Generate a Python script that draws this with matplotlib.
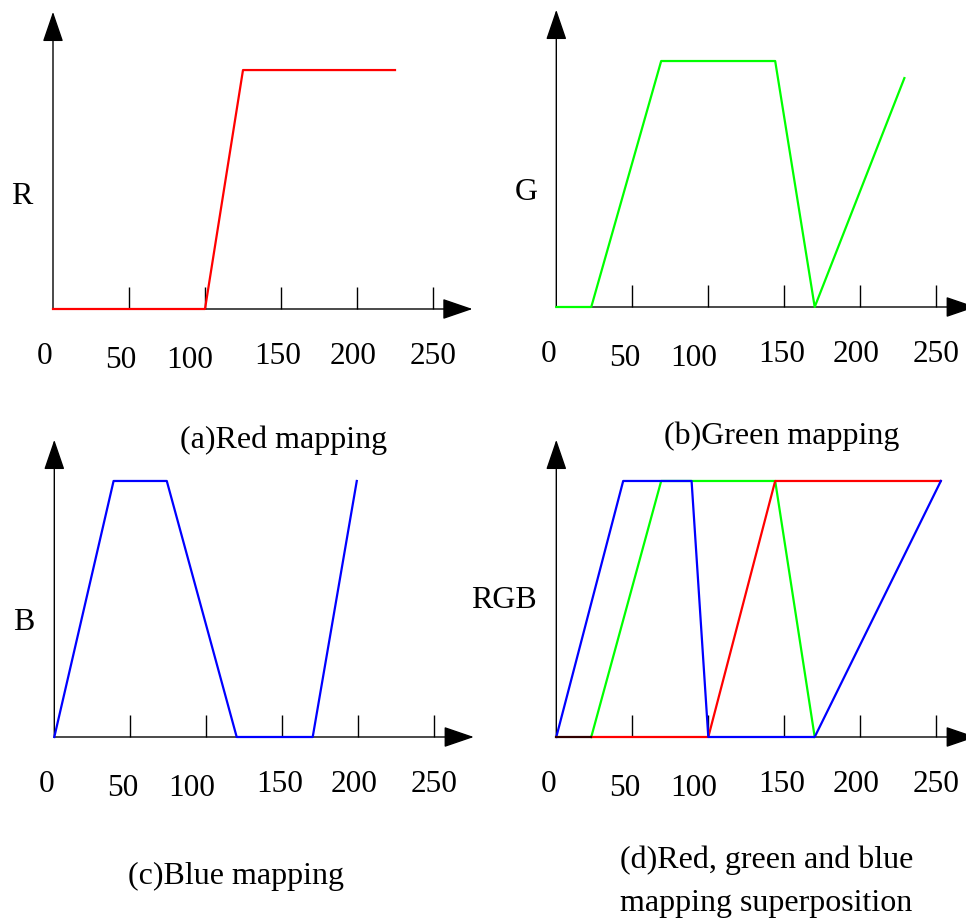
import matplotlib
matplotlib.use("Agg")
import matplotlib.pyplot as plt

plt.rcParams['font.family'] = ['Liberation Serif', 'DejaVu Serif']

W, H, DPI = 966, 924, 100

# axe des x commun
ticks = [0, 50, 100, 150, 200, 250]
tick_labels = ["0", "50", "100", "150", "200", "250"]

# (a) rouge
red_x = [0, 100, 125, 225]
red_y = [0, 0, 238, 238]

# (b) vert
green_x = [0, 23, 69, 144, 170, 229]
green_y = [0, 0, 245, 245, 0, 228]

# (c) bleu
blue_x = [0, 39, 74, 120, 170, 199]
blue_y = [0, 255, 255, 0, 0, 255]

# (d) superposition
sup_red_x = [23, 100, 144, 253]
sup_red_y = [0, 0, 255, 255]
sup_green_x = [23, 69, 144, 170]
sup_green_y = [0, 255, 255, 0]
sup_blue_x = [0, 44, 89, 100, 170, 253]
sup_blue_y = [0, 255, 255, 0, 0, 255]
sup_dark_x = [0, 23]
sup_dark_y = [0, 0]

# echelles (pixels par unite)
SX, SY = 1.52, 1.004
XMIN, XMAX, YMIN, YMAX = -35, 285, -70, 305

# decalages des etiquettes de graduation (pixels)
lab_dx = [-8, -8, -15, -3, -4, 0]
lab_dy = [-48, -51, -51, -47, -47, -47]

fig = plt.figure(figsize=(W / DPI, H / DPI), dpi=DPI)


def make_panel(ox, oy, ylabel, lab_off, ha="center"):
    left = ox + XMIN * SX
    bottom = oy - YMIN * SY
    width = (XMAX - XMIN) * SX
    height = (YMAX - YMIN) * SY
    ax = fig.add_axes([left / W, 1 - bottom / H, width / W, height / H])
    ax.set_xlim(XMIN, XMAX)
    ax.set_ylim(YMIN, YMAX)
    ax.axis("off")
    arrow = dict(arrowstyle="-|>,head_length=1.9,head_width=0.65", mutation_scale=10,
                 color="black", lw=1.0, shrinkA=0, shrinkB=0)
    ax.annotate("", xy=(276, 0), xytext=(0, 0), arrowprops=arrow, annotation_clip=False)
    ax.annotate("", xy=(0, 296), xytext=(0, 0), arrowprops=arrow, annotation_clip=False)
    ax.vlines(ticks[1:], 0, 22, color="black", lw=1.0, zorder=1)
    for t, lab, dx, dy in zip(ticks, tick_labels, lab_dx, lab_dy):
        ax.annotate(lab, xy=(t, 0), xytext=(dx, dy), textcoords="offset pixels",
                    ha="center", va="center", fontsize=22.5, annotation_clip=False)
    ax.annotate(ylabel, xy=(0, 0), xytext=lab_off, textcoords="offset pixels",
                ha=ha, va="center", fontsize=23, annotation_clip=False)
    return ax


ax_a = make_panel(53, 309, "R", (-31, 112))
ax_a.plot(red_x, red_y, color="#ff0000", lw=1.6, zorder=3)

ax_b = make_panel(556.3, 307, "G", (-30, 114))
ax_b.plot(green_x, green_y, color="#00ff00", lw=1.6, zorder=3)

ax_c = make_panel(54.3, 737, "B", (-31, 115))
ax_c.plot(blue_x, blue_y, color="#0000ff", lw=1.6, zorder=3)

ax_d = make_panel(556.3, 737, "RGB", (-19, 137), ha="right")
ax_d.plot(sup_green_x, sup_green_y, color="#00ff00", lw=1.6, zorder=3)
ax_d.plot(sup_red_x, sup_red_y, color="#ff0000", lw=1.6, zorder=4)
ax_d.plot(sup_blue_x, sup_blue_y, color="#0000ff", lw=1.6, zorder=5)
ax_d.plot(sup_dark_x, sup_dark_y, color="#300000", lw=1.6, zorder=5)

# legendes sous les graphiques
fig.text(284 / W, 1 - 440 / H, "(a)Red mapping", ha="center", va="center", fontsize=23)
fig.text(782 / W, 1 - 436 / H, "(b)Green mapping", ha="center", va="center", fontsize=23)
fig.text(235.5 / W, 1 - 876 / H, "(c)Blue mapping", ha="center", va="center", fontsize=23)
fig.text(620 / W, 1 - 860 / H, "(d)Red, green and blue", ha="left", va="center", fontsize=23)
fig.text(620 / W, 1 - 903 / H, "mapping superposition", ha="left", va="center", fontsize=23)

fig.savefig("out.png", dpi=DPI)
